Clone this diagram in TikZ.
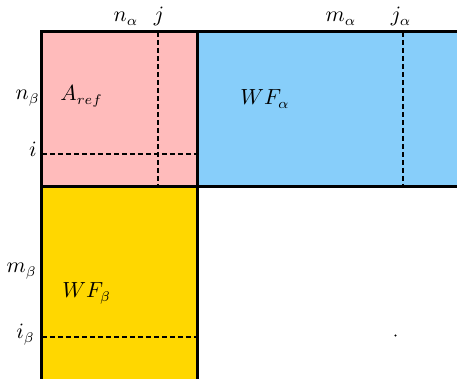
\documentclass[tikz,border=0pt]{standalone}
\begin{document}
\begin{tikzpicture}[x=0.5pt,y=-0.5pt,
  box/.style={line width=1.5pt},
  guide/.style={line width=1pt,dash pattern=on 2.5pt off 1.5pt},
  lbl/.style={inner sep=0pt,font=\fontsize{10.5}{12}\selectfont}]
\definecolor{refpink}{RGB}{255,187,187}
\definecolor{wfblue}{RGB}{135,206,250}
\definecolor{wfgold}{RGB}{255,215,0}
\useasboundingbox (0,0) rectangle (457,379);
\clip (0,0) rectangle (457,379);
% fills
\fill[refpink] (42,32) rectangle (198,187);
\fill[wfblue] (198,32) rectangle (470,187);
\fill[wfgold] (42,187) rectangle (198,395);
% guides
\draw[guide] (158,32) -- (158,187);
\draw[guide] (42,154) -- (198,154);
\draw[guide] (403,32) -- (403,187);
\draw[guide] (42,337) -- (198,337);
\fill (395.5,335.5) circle (1.2);
% borders
\draw[box] (42,32) rectangle (198,187);
\draw[box] (198,32) -- (470,32);
\draw[box] (198,187) -- (470,187);
\draw[box] (42,187) -- (42,395);
\draw[box] (198,187) -- (198,395);
% labels
\node[lbl,anchor=base] (na) at (126,22) {$n_\alpha$};
\node[lbl,anchor=base] (jj) at (159,22) {$j$};
\node[lbl,anchor=base] (ma) at (341,22) {$m_\alpha$};
\node[lbl,anchor=base] (ja) at (401,22) {$j_\alpha$};
\node[lbl,anchor=base east] (nb) at (40,100) {$n_\beta$};
\node[lbl,anchor=base west] (aref) at (60,101) {$A_{ref}$};
\node[lbl,anchor=base east] (ii) at (37,157) {$i$};
\node[lbl,anchor=base west] (wfa) at (240,105) {$WF_\alpha$};
\node[lbl,anchor=base east] (mb) at (37,273) {$m_\beta$};
\node[lbl,anchor=base west] (wfb) at (62,298) {$WF_\beta$};
\node[lbl,anchor=base east] (ib) at (35,339) {$i_\beta$};
\end{tikzpicture}
\end{document}
